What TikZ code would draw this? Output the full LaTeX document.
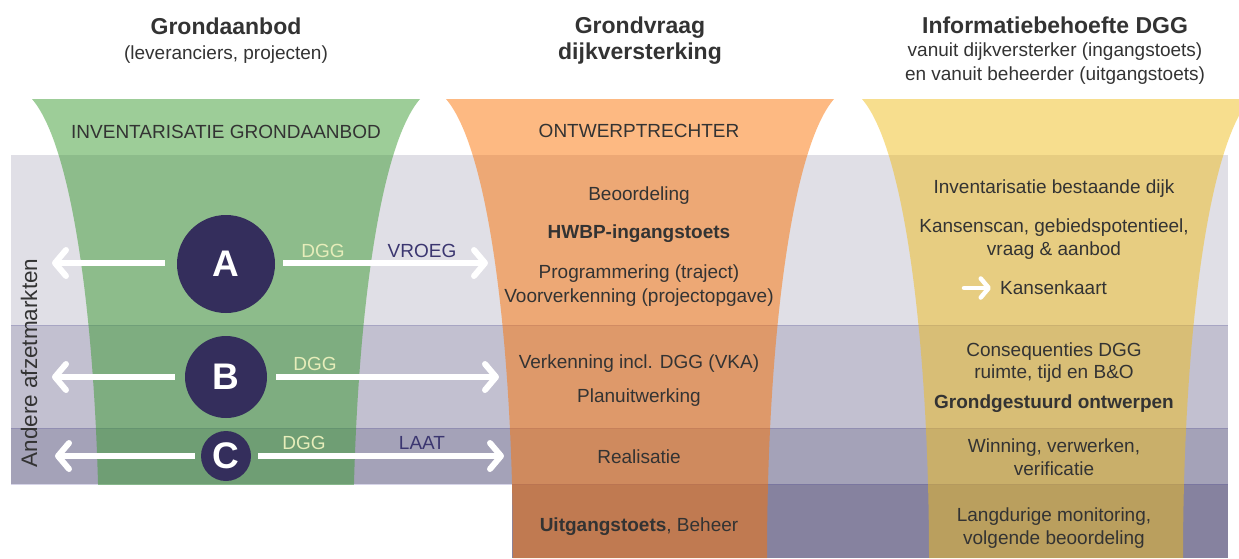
\documentclass[tikz,border=0pt]{standalone}
\usepackage{fontspec}
\setmainfont{Liberation Sans}
\usetikzlibrary{arrows.meta}
\definecolor{bandA}{HTML}{E0DFE6}
\definecolor{bandB}{HTML}{C2C0D0}
\definecolor{bandC}{HTML}{A4A2B8}
\definecolor{bandD}{HTML}{86829F}
\definecolor{fgreen}{RGB}{59,155,49}
\definecolor{forange}{RGB}{251,115,5}
\definecolor{fyellow}{RGB}{239,189,30}
\definecolor{navy}{HTML}{342E5C}
\definecolor{txt}{HTML}{333333}
\definecolor{dggcol}{HTML}{E6EDBA}
\definecolor{vroegcol}{HTML}{3B3670}
\definecolor{sepcol}{HTML}{5A55A0}
\newcommand\myfunnel[2]{%
  \fill[#2, fill opacity=0.5] ({#1-194},99) .. controls ({#1-150},150) and ({#1-127},350) .. ({#1-127},558)
    -- ({#1+127},558) .. controls ({#1+127},350) and ({#1+150},150) .. ({#1+194},99) -- cycle;}
\tikzset{
  body/.style={font=\fontsize{19}{23}\selectfont, text=txt, anchor=base, inner sep=0pt},
  ttl/.style={font=\fontsize{23}{27}\selectfont\bfseries, text=txt, anchor=base, inner sep=0pt},
  letter/.style={circle, fill=navy, inner sep=0pt, text=white, font=\fontsize{37}{40}\selectfont\bfseries},
  warrow/.style={draw=white, line width=6pt, line cap=butt, -{Straight Barb[length=11pt,width=26pt,round]}},
  dgglab/.style={font=\fontsize{19}{23}\selectfont, text=dggcol, anchor=base, inner sep=0pt},
  timelab/.style={font=\fontsize{19}{23}\selectfont, text=vroegcol, anchor=base, inner sep=0pt},
  sepline/.style={draw=sepcol, draw opacity=0.25, line width=1pt}
}
\begin{document}
\begin{tikzpicture}[x=1pt, y=-1pt]
\useasboundingbox (0,0) rectangle (1239,558);
\clip (0,0) rectangle (1239,558);
% bands
\fill[bandA] (11,155) rectangle (1228,325);
\fill[bandB] (11,325) rectangle (1228,428);
\fill[bandC] (11,428) rectangle (1228,484);
\fill[bandD] (512,484) rectangle (1228,558);
\draw[sepline] (11,325) -- (1228,325);
\draw[sepline] (11,428) -- (1228,428);
\draw[sepline] (11,484) -- (1228,484);
% funnels
\begin{scope}
\clip (0,0) rectangle (1239,484);
\myfunnel{226}{fgreen}
\end{scope}
\myfunnel{640}{forange}
\myfunnel{1056}{fyellow}
% headers
\node[ttl] (h1) at (226,34) {Grondaanbod};
\node[body] (h1s) at (226,59) {(leveranciers, projecten)};
\node[ttl] (h2) at (640,33) {Grondvraag};
\node[ttl] (h2b) at (640,59) {dijkversterking};
\node[ttl] (h3) at (1055,33) {Informatiebehoefte DGG};
\node[body] (h3s) at (1055,56) {vanuit dijkversterker (ingangstoets)};
\node[body] (h3t) at (1055,80) {en vanuit beheerder (uitgangstoets)};
% funnel titles
\node[body] (f1) at (226,138) {INVENTARISATIE GRONDAANBOD};
\node[body] (f2) at (639,137) {ONTWERPTRECHTER};
% orange texts
\node[body] (o1) at (639,200) {Beoordeling};
\node[body] (o2) at (639,238) {\bfseries HWBP-ingangstoets};
\node[body] (o3) at (639,278) {Programmering (traject)};
\node[body] (o4) at (639,302) {Voorverkenning (projectopgave)};
\node[body] (o5) at (639,368) {Verkenning incl. DGG (VKA)};
\node[body] (o6) at (639,402) {Planuitwerking};
\node[body] (o7) at (639,463) {Realisatie};
\node[body] (o8) at (639,531) {\textbf{Uitgangstoets}, Beheer};
% yellow texts
\node[body] (y1) at (1054,193) {Inventarisatie bestaande dijk};
\node[body] (y2) at (1054,232) {Kansenscan, gebiedspotentieel,};
\node[body] (y3) at (1054,255) {vraag \& aanbod};
\node[body, anchor=base west] (y4) at (1000,294) {Kansenkaart};
\coordinate (kS) at (964,288);
\coordinate (kE) at (991,288);
\draw[draw=white, line width=4.5pt, line cap=round, -{Straight Barb[length=8pt,width=19pt,round]}] (kS) -- (kE);
\node[body] (y5) at (1054,356) {Consequenties DGG};
\node[body] (y6) at (1054,378) {ruimte, tijd en B\&O};
\node[body] (y7) at (1054,408) {\bfseries Grondgestuurd ontwerpen};
\node[body] (y8) at (1054,452) {Winning, verwerken,};
\node[body] (y9) at (1054,475) {verificatie};
\node[body] (y10) at (1054,521) {Langdurige monitoring,};
\node[body] (y11) at (1054,544) {volgende beoordeling};
% side label
\node[rotate=90, font=\fontsize{22.5}{26}\selectfont, text=txt, inner sep=0pt] (side) at (29,363) {Andere afzetmarkten};
% circles
\node[letter, minimum size=98pt] (A) at (226,264) {A};
\node[letter, minimum size=82pt] (B) at (226,377) {B};
\node[letter, minimum size=50pt] (C) at (226,456) {C};
% arrow endpoints
\coordinate (AL) at (52,263);
\coordinate (AR) at (488,263);
\coordinate (BL) at (52,377);
\coordinate (BR) at (499,377);
\coordinate (CL) at (55,456);
\coordinate (CR) at (504,456);
\draw[warrow] ([xshift=-12pt]A.west |- AL) -- (AL);
\draw[warrow] ([xshift=8pt]A.east |- AR) -- (AR);
\draw[warrow] ([xshift=-10pt]B.west |- BL) -- (BL);
\draw[warrow] ([xshift=9pt]B.east |- BR) -- (BR);
\draw[warrow] ([xshift=-6pt]C.west |- CL) -- (CL);
\draw[warrow] ([xshift=7pt]C.east |- CR) -- (CR);
% labels
\node[dgglab] (dA) at (323,257) {DGG};
\node[timelab] (vA) at (422,257) {VROEG};
\node[dgglab] (dB) at (315,370) {DGG};
\node[dgglab] (dC) at (304,449) {DGG};
\node[timelab] (vC) at (422,449) {LAAT};
\end{tikzpicture}
\end{document}
